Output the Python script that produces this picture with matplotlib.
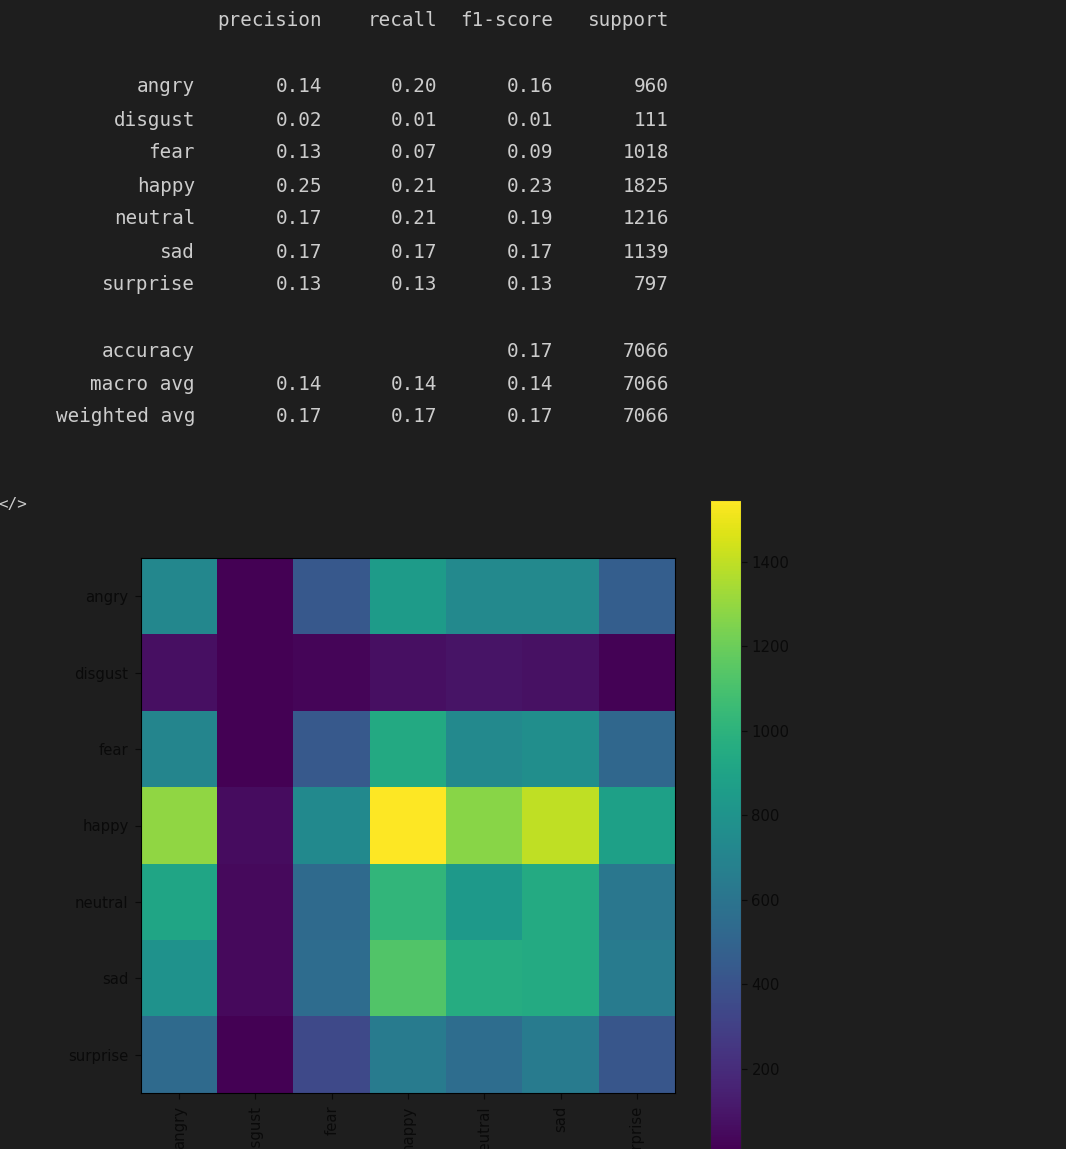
import matplotlib
matplotlib.use("Agg")
import matplotlib.pyplot as plt
import numpy as np

W, H = 1066, 1149
BG = "#1e1e1e"
TXT = "#cccccc"

labels = ["angry", "disgust", "fear", "happy", "neutral", "sad", "surprise"]
precision = ["0.14", "0.02", "0.13", "0.25", "0.17", "0.17", "0.13"]
recall = ["0.20", "0.01", "0.07", "0.21", "0.21", "0.17", "0.13"]
f1 = ["0.16", "0.01", "0.09", "0.23", "0.19", "0.17", "0.13"]
support = ["960", "111", "1018", "1825", "1216", "1139", "797"]

summary_labels = ["accuracy", "macro avg", "weighted avg"]
summary_precision = ["", "0.14", "0.17"]
summary_recall = ["", "0.14", "0.17"]
summary_f1 = ["0.17", "0.14", "0.17"]
summary_support = ["7066", "7066", "7066"]

header = ["precision", "recall", "f1-score", "support"]

row_angry = [720, 10, 430, 850, 730, 730, 470]
row_disgust = [70, 8, 30, 70, 90, 75, 15]
row_fear = [710, 10, 440, 940, 730, 770, 520]
row_happy = [1290, 60, 740, 1546, 1270, 1400, 880]
row_neutral = [910, 50, 540, 1020, 840, 950, 620]
row_sad = [790, 50, 550, 1130, 960, 950, 650]
row_surprise = [540, 8, 350, 650, 560, 650, 420]
matrix = np.array([row_angry, row_disgust, row_fear, row_happy,
                   row_neutral, row_sad, row_surprise])

fig = plt.figure(figsize=(W / 100, H / 100), dpi=100, facecolor=BG)


def ax_px(x0, y0, x1, y1):
    return fig.add_axes([x0 / W, 1 - y1 / H, (x1 - x0) / W, (y1 - y0) / H])


def put(xr, yc, s, **kw):
    fig.text(xr / W, 1 - yc / H, s, ha="right", va="center", color=TXT,
             family="DejaVu Sans Mono", fontsize=13.85, **kw)


col_x = [322, 437, 553, 669]
for x, h in zip(col_x, header):
    put(x, 21, h)

row_y = [87, 120, 153, 186, 219, 252, 285]
for i, y in enumerate(row_y):
    put(195, y, labels[i])
    for x, col in zip(col_x, [precision, recall, f1, support]):
        put(x, y, col[i])

sum_y = [351, 384, 417]
for i, y in enumerate(sum_y):
    put(195, y, summary_labels[i])
    for x, col in zip(col_x, [summary_precision, summary_recall, summary_f1, summary_support]):
        if col[i]:
            put(x, y, col[i])

fig.text(13 / W, 1 - 505 / H, "</>", ha="center", va="center", color=TXT,
         family="DejaVu Sans Mono", fontsize=11.5)

ax = ax_px(141, 558, 675, 1093)
im = ax.imshow(matrix, cmap="viridis", aspect="auto", interpolation="nearest")
ax.set_xticks(range(len(labels)), labels, rotation=90)
ax.set_yticks(range(len(labels)), labels)
ax.tick_params(colors="#0a0a0a", labelsize=10.7, length=4)
ax.tick_params(axis="y", pad=5)
ax.tick_params(axis="x", pad=5)

cax = ax_px(710, 500, 741, 1150)
cb = fig.colorbar(im, cax=cax)
cb.set_ticks([200, 400, 600, 800, 1000, 1200, 1400])
cb.ax.tick_params(colors="#0a0a0a", labelsize=10.7, length=4)
cb.outline.set_edgecolor("#222222")

fig.savefig("out.png", dpi=100, facecolor=BG)
